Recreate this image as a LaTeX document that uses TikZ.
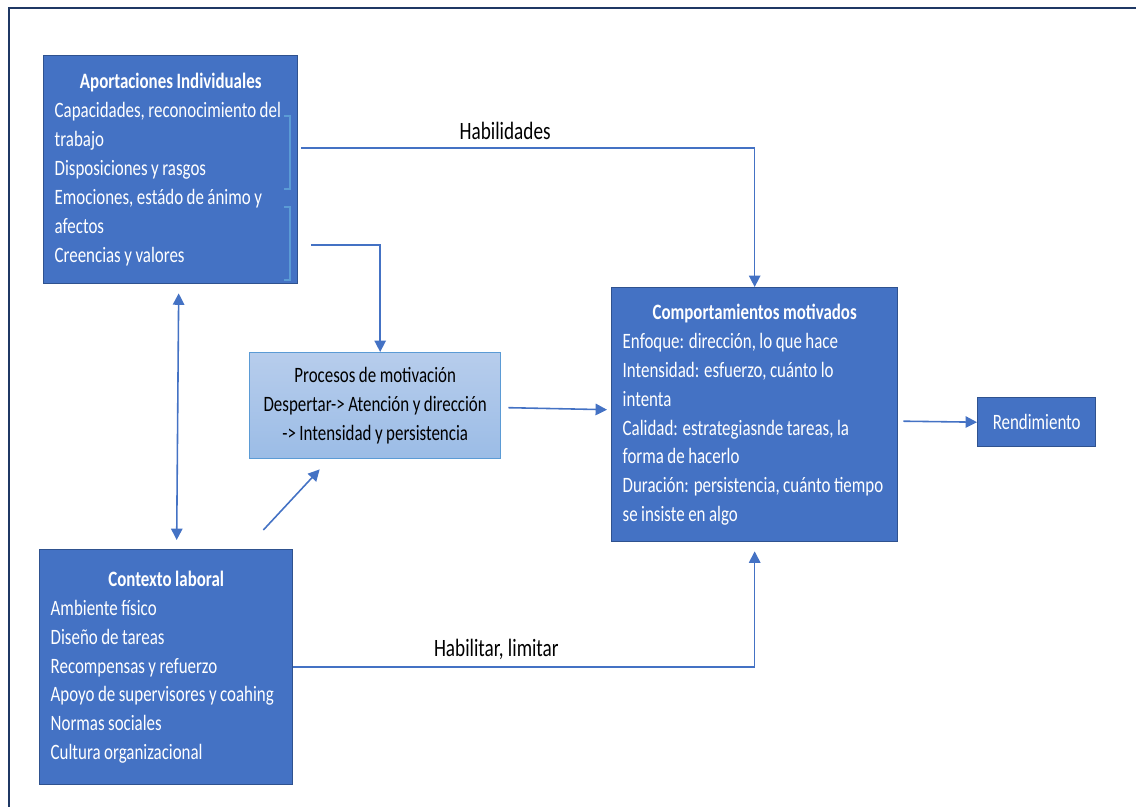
\documentclass[tikz,border=0pt]{standalone}
\usepackage{fontspec}
\setmainfont{Carlito}[FakeStretch=0.77]
\usepackage{xcolor}
\usepackage{tikz}
\usetikzlibrary{positioning,arrows.meta,calc}

\definecolor{boxblue}{HTML}{4472C4}
\definecolor{boxedge}{HTML}{2F528F}
\definecolor{lightedge}{HTML}{5B9BD5}
\definecolor{lighttop}{HTML}{B7CDEC}
\definecolor{lightbot}{HTML}{9BBCE6}
\definecolor{arrowblue}{HTML}{4472C4}
\definecolor{frameblue}{HTML}{1F3864}

\newcommand{\boxfont}{\fontsize{12.5}{16.5}\selectfont\spaceskip=2pt plus 1pt minus 0.5pt\relax}
\newcommand{\labelfont}{\fontsize{14.2}{17}\selectfont\spaceskip=2.4pt plus 1pt minus 0.5pt\relax}
\newcommand{\boxtitle}[2]{\makebox[#1]{\textbf{#2}}}

\begin{document}
\begin{tikzpicture}[
    x=0.02cm, y=-0.02cm,
    font=\boxfont,
    blue_box/.style={draw=boxedge, fill=boxblue, line width=0.8pt, text=white, anchor=north west, inner xsep=0.22cm, inner ysep=0pt, align=left},
    light_box/.style={draw=lightedge, top color=lighttop, bottom color=lightbot, line width=0.8pt, anchor=north west, align=center},
    brace_line/.style={draw=lightedge, line width=1pt},
    frame_line/.style={draw=frameblue, line width=1.2pt},
    arrow_label/.style={font=\labelfont, inner sep=4pt},
    arrow/.style={->, >={Triangle[length=6.5pt,width=6.5pt]}, line width=0.9pt, draw=arrowblue}
]
\useasboundingbox (0,0) rectangle (1136,807);

\draw [frame_line] (9,807) -- (9,8) -- (1136,8);

\node (aport) [blue_box, minimum width=5.08cm, minimum height=4.56cm] at (43,55)
    {\boxtitle{4.64cm}{Aportaciones Individuales}\\
     Capacidades, reconocimiento del\\trabajo\\Disposiciones y rasgos\\
     Emociones, estádo de ánimo y\\afectos\\Creencias y valores};

\node (proc) [light_box, minimum width=5.02cm, minimum height=2.12cm] at (249,352)
    {Procesos de motivación\\Despertar-> Atención y dirección\\-> Intensidad y persistencia};

\node (comp) [blue_box, minimum width=5.72cm, minimum height=5.08cm] at (611,287)
    {\boxtitle{5.28cm}{Comportamientos motivados}\\
     Enfoque: dirección, lo que hace\\Intensidad: esfuerzo, cuánto lo\\intenta\\
     Calidad: estrategiasnde tareas, la\\forma de hacerlo\\
     Duración: persistencia, cuánto tiempo\\se insiste en algo};

\node (rend) [blue_box, align=center, minimum width=2.36cm, minimum height=0.98cm] at (977,397) {Rendimiento};

\node (ctx) [blue_box, minimum width=5.06cm, minimum height=4.7cm] at (39,549)
    {\boxtitle{4.62cm}{Contexto laboral}\\
     Ambiente físico\\Diseño de tareas\\Recompensas y refuerzo\\
     Apoyo de supervisores y coahing\\Normas sociales\\Cultura organizacional};

% corchetes dentro de las aportaciones
\draw [brace_line] ($(aport.north east)+(-14,61)$) -- ++(6,0) -- ++(0,73) -- ++(-6,0);
\draw [brace_line] ($(aport.north east)+(-14,152)$) -- ++(6,0) -- ++(0,73) -- ++(-6,0);

\coordinate (habStart) at (301,148);
\coordinate (aportOut) at (311,245);

\draw [arrow] (habStart) -| node[arrow_label, above, pos=0.225] {Habilidades} (comp.north);
\draw [arrow] (aportOut) -| ($(proc.north)+(5,0)$);
\draw [arrow] ($(proc.east)+(7,2)$) -- ($(comp.west |- proc.east)+(-4,4)$);
\draw [arrow] ($(comp.east |- rend.west)+(5,-1)$) -- (rend.west);
\draw [arrow, <->] ($(aport.south)+(8,9)$) -- ($(ctx.north)+(10.5,-9)$);
\draw [arrow] ($(ctx.north east)+(-30,-19)$) -- ($(proc.south)+(-55.5,10)$);
\draw [arrow] (ctx.east) -| node[arrow_label, above, pos=0.22] {Habilitar, limitar} ($(comp.south)+(0,9)$);

\end{tikzpicture}
\end{document}
